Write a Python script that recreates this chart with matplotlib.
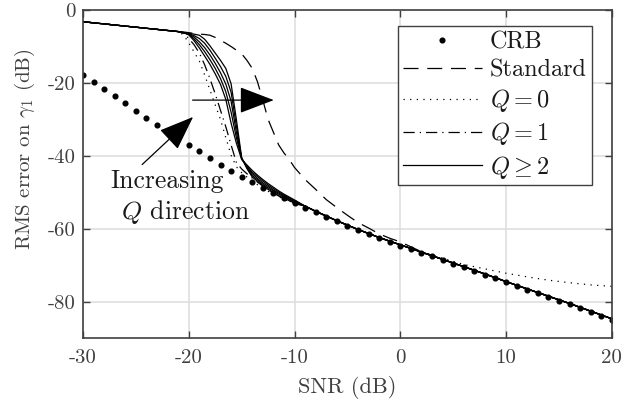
import matplotlib
matplotlib.use('Agg')
import matplotlib.pyplot as plt
from matplotlib.patches import FancyArrowPatch

plt.rcParams['font.family'] = 'cmr10'
plt.rcParams['mathtext.fontset'] = 'cm'
plt.rcParams['axes.unicode_minus'] = False

# CRB, un punto per ogni dB
crb_snr = list(range(-30, 21))
crb = [-17.8, -19.7, -21.6, -23.6, -25.6, -27.6, -29.5, -31.4, -33.3, -35.2,
       -37.0, -38.8, -40.6, -42.4, -44.1, -45.7, -47.3, -48.8, -50.2, -51.5,
       -52.8, -54.2, -55.5, -56.7, -58.0, -59.2, -60.4, -61.5, -62.6, -63.6,
       -64.6, -65.6, -66.6, -67.6, -68.6, -69.6, -70.6, -71.6, -72.6, -73.6,
       -74.7, -75.7, -76.7, -77.7, -78.7, -79.7, -80.7, -81.7, -82.8, -83.8,
       -84.9]

# asse SNR per gli stimatori
snr_head = [-30, -27, -24, -22, -21]
snr_mid = [-20.5, -20, -19.5, -19, -18.5, -18, -17.5, -17, -16.5, -16, -15.5,
           -15, -14.5, -14, -13.5, -13, -12.5, -12, -11.5, -11, -10.5, -10]
snr_low = [-9, -8, -7, -6, -5, -4, -3, -2, -1, 0]
snr_high = [2, 4, 6, 8, 10, 12, 14, 16, 18, 20]

head = [-3.2, -4.1, -5.0, -5.6, -5.9]
tail_low = [-53.8, -55.2, -56.5, -57.8, -59.0, -60.2, -61.3, -62.4, -63.4, -64.4]
tail_high = [-66.4, -68.4, -70.4, -72.4, -74.5, -76.5, -78.5, -80.5, -82.6, -84.7]

std_mid = [-6.0, -6.2, -6.4, -6.6, -6.7, -6.9, -7.5, -8.3, -9.1, -10.0, -11.0,
           -12.0, -13.8, -16.0, -19.7, -24.7, -30.0, -33.5, -37.0, -39.2, -41.0, -43.2]
std_low = [-46.5, -49.2, -52.0, -54.2, -56.3, -58.3, -59.8, -61.4, -62.6, -63.6]
std_high = [-66.3, -68.4, -70.4, -72.4, -74.5, -76.5, -78.5, -80.5, -82.6, -84.7]

q0_mid = [-6.8, -9.0, -11.5, -14.0, -17.8, -21.9, -26.0, -30.0, -35.0, -39.8, -43.0,
          -44.6, -45.8, -46.9, -47.9, -48.8, -49.7, -50.5, -51.2, -51.9, -52.5, -53.1]
q0_high = [-66.3, -68.1, -69.8, -71.0, -72.2, -73.2, -74.1, -74.8, -75.4, -75.8]

q1_mid = [-6.4, -7.8, -9.5, -11.8, -15.0, -18.8, -23.0, -27.5, -32.0, -37.0, -41.8,
          -43.6, -44.9, -46.1, -47.2, -48.3, -49.3, -50.2, -51.0, -51.7, -52.4, -53.0]

# Q = 2..6
qn_mid = [
    [-6.2, -6.8, -8.4, -10.4, -12.6, -14.9, -17.5, -20.4, -24.5, -31.0, -36.5,
     -41.0, -42.5, -44.0, -45.3, -46.5, -47.6, -48.6, -49.6, -50.5, -51.3, -52.1],
    [-6.2, -6.7, -7.9, -9.5, -11.4, -13.6, -16.0, -18.8, -22.4, -28.0, -35.0,
     -40.8, -42.8, -44.5, -45.7, -46.9, -48.0, -49.0, -49.9, -50.8, -51.5, -52.3],
    [-6.2, -6.6, -7.4, -8.7, -10.3, -12.3, -14.6, -17.2, -20.3, -25.0, -33.5,
     -40.7, -43.0, -44.9, -46.2, -47.4, -48.4, -49.4, -50.2, -51.0, -51.8, -52.5],
    [-6.2, -6.5, -7.0, -7.8, -9.1, -11.0, -13.2, -15.5, -18.2, -22.5, -31.8,
     -40.6, -43.3, -45.4, -46.6, -47.8, -48.8, -49.7, -50.5, -51.3, -52.0, -52.7],
    [-6.2, -6.4, -6.6, -6.9, -8.0, -9.8, -11.8, -13.8, -16.0, -20.2, -30.0,
     -40.5, -43.5, -45.8, -47.0, -48.2, -49.2, -50.1, -50.9, -51.6, -52.3, -52.9],
]

snr = snr_head + snr_mid + snr_low + snr_high

grey = '#404040'
fig = plt.figure(figsize=(6.4, 4.03), dpi=100)
ax = fig.add_axes([0.1297, 0.161, 0.8263, 0.814])

ax.plot(crb_snr, crb, 'o', color='k', ms=3.4, ls='none', label='CRB')
ax.plot(snr, head + std_mid + std_low + std_high, color='k', lw=0.9,
        ls=(0, (12, 7)), label='Standard')
ax.plot(snr, head + q0_mid + tail_low + q0_high, color='k', lw=0.9,
        ls=(0, (1, 4.3)), label='$Q=0$')
ax.plot(snr, head + q1_mid + tail_low + tail_high, color='k', lw=0.9,
        ls=(0, (9, 4, 1, 4)), label='$Q=1$')
for i, m in enumerate(qn_mid):
    ax.plot(snr, head + m + tail_low + tail_high, color='k', lw=0.9,
            label='$Q\\geq 2$' if i == 0 else None)

# frecce
ax.add_patch(FancyArrowPatch((-19.9, -24.7), (-11.7, -24.7), mutation_scale=20,
                             arrowstyle='-|>,head_length=1.1,head_width=0.42',
                             color='k', lw=0.9))
ax.add_patch(FancyArrowPatch((-24.6, -42.9), (-19.4, -28.8), mutation_scale=20,
                             arrowstyle='-|>,head_length=1.1,head_width=0.42',
                             color='k', lw=0.9))
ax.text(-22.0, -46.8, 'Increasing', fontsize=18.5, ha='center', va='center', color='#1a1a1a')
ax.text(-20.3, -55.3, '$Q$ direction', fontsize=18.5, ha='center', va='center', color='#1a1a1a')

ax.set_xlim(-30, 20)
ax.set_ylim(-90, 0)
ax.set_xticks([-30, -20, -10, 0, 10, 20])
ax.set_xticklabels(['-30', '-20', '-10', '0', '10', '20'])
ax.set_yticks([-80, -60, -40, -20, 0])
ax.set_yticklabels(['-80', '-60', '-40', '-20', '0'])
ax.grid(True, color='#dcdcdc', lw=1.1)
ax.set_axisbelow(True)
ax.tick_params(direction='in', top=True, right=True, length=5, width=1,
               colors=grey, labelsize=15)
ax.tick_params(axis='x', pad=8)
ax.tick_params(axis='y', pad=5)
for s in ax.spines.values():
    s.set_color(grey)
    s.set_linewidth(1.2)

ax.set_xlabel('SNR (dB)', fontsize=16, color=grey)
ax.set_ylabel('RMS error on $\\gamma_1$ (dB)', fontsize=15, color=grey)
ax.xaxis.set_label_coords(0.5, -0.115)
ax.yaxis.set_label_coords(-0.087, 0.575)

leg = ax.legend(loc='upper right', bbox_to_anchor=(0.962, 0.951), borderaxespad=0,
                fontsize=17.5, numpoints=1, handlelength=3.25, handletextpad=0.33,
                labelspacing=0.25, fancybox=False, framealpha=1, borderpad=0.2)
leg.get_frame().set_edgecolor(grey)
leg.get_frame().set_linewidth(1.0)
for t in leg.get_texts():
    t.set_color('#1a1a1a')

fig.savefig('out.png', dpi=100)
